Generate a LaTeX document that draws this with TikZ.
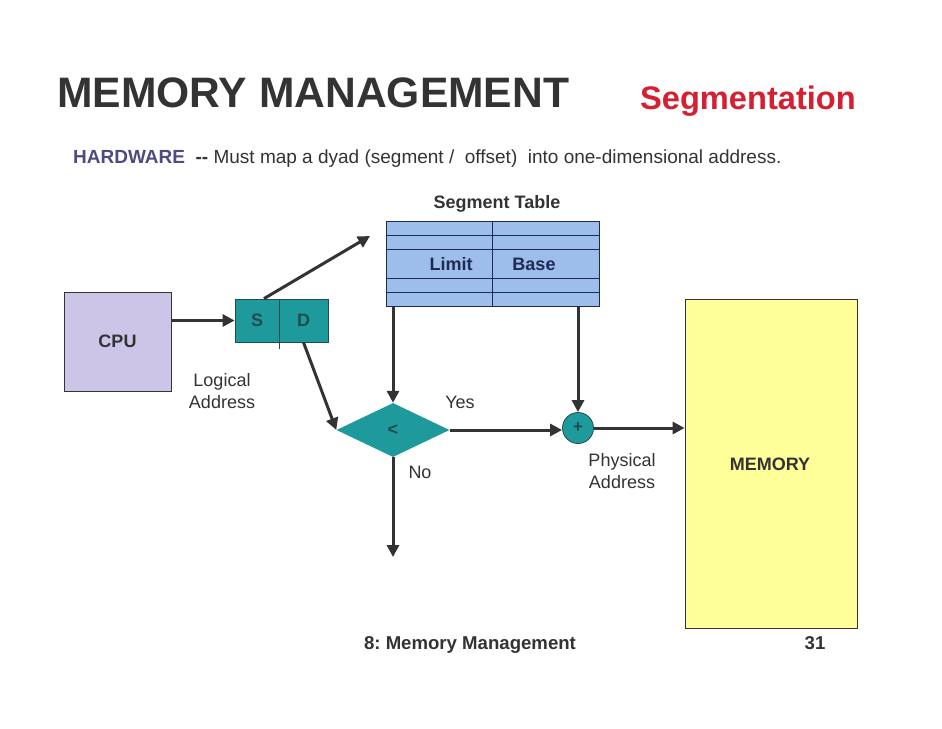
\documentclass[tikz,border=0pt]{standalone}
\usepackage{fontspec}
\setmainfont{Liberation Sans}
\usetikzlibrary{shapes.geometric,arrows.meta,calc}
\definecolor{titlegray}{HTML}{333333}
\definecolor{segred}{HTML}{D42031}
\definecolor{hwpurple}{HTML}{4E4A82}
\definecolor{teal1}{HTML}{1E9A9C}
\definecolor{tealtext}{HTML}{1F4C50}
\definecolor{tblue}{HTML}{9DBDEA}
\definecolor{tline}{HTML}{1E2B55}
\definecolor{cpufill}{HTML}{CCC5E8}
\definecolor{memfill}{HTML}{FFFF99}
\definecolor{arrgray}{HTML}{333333}
\frenchspacing
\begin{document}
\begin{tikzpicture}[x=1pt,y=-1pt,
  arr/.style={draw=arrgray,line width=3pt,-{Triangle[length=12pt,width=12pt]}},
  lbl/.style={font=\fontsize{18}{22}\selectfont,text=titlegray,align=center,inner sep=0pt},
  blbl/.style={font=\fontsize{18}{22}\selectfont\bfseries,text=titlegray,align=center,inner sep=0pt},
  tealbox/.style={fill=teal1,draw=tealtext,line width=0.8pt,inner sep=0pt,font=\fontsize{18}{22}\selectfont\bfseries,text=tealtext},
  plainbox/.style={draw=titlegray,line width=0.8pt,inner sep=0pt}
]
\useasboundingbox[fill=white] (0,0) rectangle (942,728);

% titles
\node[anchor=base west,inner sep=0pt,text=titlegray,font=\fontsize{42.6}{46}\selectfont\bfseries] (title) at (57,107) {MEMORY MANAGEMENT};
\node[anchor=base west,inner sep=0pt,text=segred,font=\fontsize{32.6}{36}\selectfont\bfseries] (seg) at (640,109) {Segmentation};
\node[anchor=base west,inner sep=0pt,text=titlegray,font=\fontsize{19}{22}\selectfont] (hw) at (73,163) {\textcolor{hwpurple}{\bfseries HARDWARE}\ \ \textbf{-{}-} Must map a dyad (segment /\ \ offset)\ \ into one-dimensional address.};

% CPU
\node[plainbox,fill=cpufill,minimum width=107pt,minimum height=99pt] (cpu) at (117.5,341.5) {};
\node[blbl] (cputxt) at (cpu.center) {CPU};

% S D box
\node[tealbox,minimum width=44pt,minimum height=43pt] (S) at (257,320.5) {S};
\node[tealbox,minimum width=49pt,minimum height=43pt] (D) at (303.5,320.5) {D};
\draw[draw=tealtext,line width=0.8pt] (S.north east) -- ($(S.south east)+(0,7)$);

% segment table
\node[blbl,anchor=base] (segtab) at (497,208) {Segment Table};
\node[fill=tblue,draw=tline,line width=1pt,minimum width=213pt,minimum height=85pt,inner sep=0pt] (tbl) at (492.5,263.5) {};
\foreach \yy in {235,249,278,292}{
  \draw[tline,line width=0.9pt] (386,\yy) -- (599,\yy);
}
\draw[tline,line width=0.9pt] (492,221) -- (492,306);
\node[blbl,anchor=base,text=tline] (limit) at (451,270) {Limit};
\node[blbl,anchor=base,text=tline] (base) at (534,270) {Base};

% comparator
\node[diamond,fill=teal1,draw=none,minimum width=113pt,minimum height=54pt,inner sep=0pt,font=\fontsize{18}{22}\selectfont\bfseries,text=tealtext] (cmp) at (393,430) {\raisebox{-3pt}{<}};

% adder
\node[circle,fill=teal1,draw=tealtext,line width=0.8pt,minimum size=31pt,inner sep=0pt,font=\fontsize{17}{18}\selectfont\bfseries,text=tealtext] (add) at (578,428) {\raisebox{-2.5pt}{+}};

% memory
\node[plainbox,fill=memfill,minimum width=172pt,minimum height=329pt] (mem) at (771,463.5) {};
\node[blbl] (memtxt) at (770,464) {MEMORY};

% labels
\node[lbl,anchor=base] (logical) at (222,408) {Logical\\Address};
\node[lbl,anchor=base] (yes) at (460,408) {Yes};
\node[lbl,anchor=base] (no) at (420,478) {No};
\node[lbl,anchor=base] (phys) at (622,488) {Physical\\Address};

% footer
\node[anchor=base,inner sep=0pt,text=titlegray,font=\fontsize{18.6}{22}\selectfont\bfseries] (footer) at (470,649) {8: Memory Management};
\node[anchor=base,inner sep=0pt,text=titlegray,font=\fontsize{18.6}{22}\selectfont\bfseries] (pnum) at (815,649) {31};

% connectors
\coordinate (segEnd) at (370,236);
\coordinate (noEnd) at (393,557);
\draw[arr] (cpu.east |- S.west) -- (S.west);
\draw[arr] ([xshift=7pt]S.north) -- (segEnd);
\draw[arr] (D.south) -- (cmp.west);
\draw[arr] (cmp.north |- tbl.south) -- (cmp.north);
\draw[arr] (add.north |- tbl.south) -- (add.north);
\draw[arr] (cmp.east) -- (cmp.east -| add.west);
\draw[arr] (add.east) -- (add.east -| mem.west);
\draw[arr] (cmp.south) -- (noEnd);
\end{tikzpicture}
\end{document}
